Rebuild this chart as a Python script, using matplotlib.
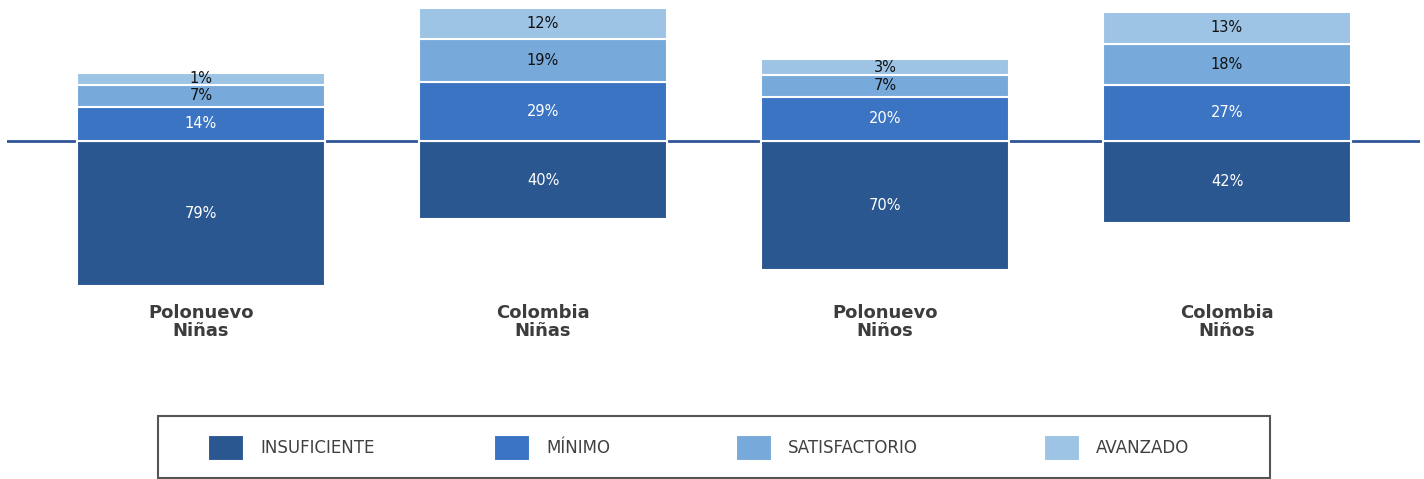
import numpy as np
import matplotlib.pyplot as plt
from matplotlib.patches import Rectangle

# Data
groups = ["Polonuevo\nNiñas", "Colombia\nNiñas", "Polonuevo\nNiños", "Colombia\nNiños"]
insuficiente = [79, 40, 70, 42]
minimo = [14, 29, 20, 27]
satisfactorio = [7, 19, 7, 18]
avanzado = [1, 12, 3, 13]

levels = ["INSUFICIENTE", "MÍNIMO", "SATISFACTORIO", "AVANZADO"]
colors = ["#2B5791", "#3A74C3", "#77AADB", "#9DC3E5"]
text_colors = ["white", "white", "#111111", "#111111"]

W, H = 1424, 479
fig = plt.figure(figsize=(W / 100, H / 100), dpi=100)

# axes placement in pixels
ax_left, ax_right = 7, 1420
ax_top, ax_bottom = 0, 350
zero_px = 141
px_per_unit = 1.7
pad = 6  # every segment gets a small extra height so its label fits (as in the source chart)
ax = fig.add_axes([ax_left / W, 1 - ax_bottom / H,
                   (ax_right - ax_left) / W, (ax_bottom - ax_top) / H])

x = np.arange(len(groups))
width = 0.725
ax.set_xlim((ax_left - 201) / 342, (ax_right - 201) / 342)
ax.set_ylim(-(ax_bottom - zero_px) / px_per_unit, zero_px / px_per_unit)

ax.axhline(0, color="#2F5597", linewidth=2, zorder=1)

# negative part
neg = -(np.array(insuficiente) + pad)
ax.bar(x, neg, width, color=colors[0], edgecolor="white", linewidth=1.5, zorder=2)
for xi, h, v in zip(x, neg, insuficiente):
    ax.text(xi, h / 2, f"{v}%", ha="center", va="center", color=text_colors[0],
            fontsize=10.5)

# positive stack
bottom = np.zeros(len(groups))
for vals, c, tc in zip([minimo, satisfactorio, avanzado], colors[1:], text_colors[1:]):
    heights = np.array(vals) + pad
    ax.bar(x, heights, width, bottom=bottom, color=c, edgecolor="white", linewidth=1.5, zorder=2)
    for xi, b, h, v in zip(x, bottom, heights, vals):
        ax.text(xi, b + h / 2, f"{v}%", ha="center", va="center", color=tc, fontsize=10.5)
    bottom = bottom + heights

ax.axis("off")

# category labels
for xi, g in zip(x, groups):
    ax.text(xi, -(322 - zero_px) / px_per_unit, g, ha="center", va="center",
            fontsize=13, fontweight="semibold", color="#3C3C3C", linespacing=1.0)

# legend box
fig.add_artist(Rectangle((158 / W, 1 - 478 / H), (1270 - 158) / W, 62 / H,
                         transform=fig.transFigure, fill=False,
                         edgecolor="#555555", linewidth=1.5))
legend_x = [208, 494, 736, 1044]
for lx, lab, c in zip(legend_x, levels, colors):
    fig.add_artist(Rectangle((lx / W, 1 - 460 / H), 35 / W, 25 / H,
                             transform=fig.transFigure, facecolor=c,
                             edgecolor="white", linewidth=0.8))
    fig.text((lx + 52) / W, 1 - 448 / H, lab, ha="left", va="center",
             fontsize=12, color="#404040")

plt.savefig("out.png", dpi=100)
